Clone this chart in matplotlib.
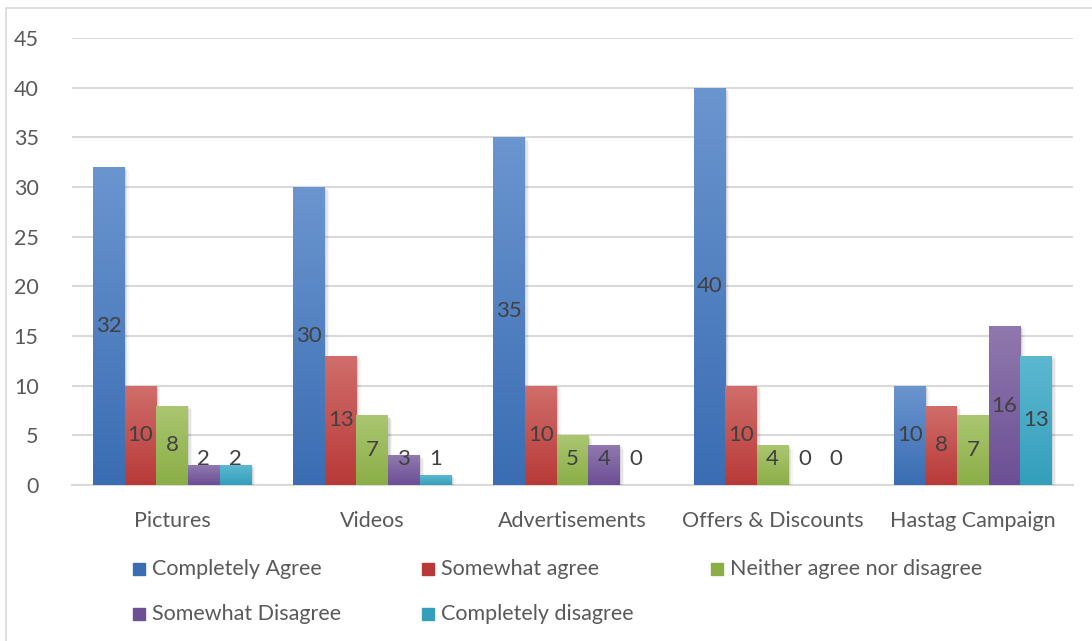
import matplotlib
matplotlib.use("Agg")
import matplotlib.pyplot as plt
import matplotlib.patheffects as pe
from matplotlib.colors import to_rgb
from matplotlib.patches import Rectangle
import numpy as np

categories = ["Pictures", "Videos", "Advertisements", "Offers & Discounts", "Hastag Campaign"]
series = ["Completely Agree", "Somewhat agree", "Neither agree nor disagree",
          "Somewhat Disagree", "Completely disagree"]
completely_agree = [32, 30, 35, 40, 10]
somewhat_agree = [10, 13, 10, 10, 8]
neither = [8, 7, 5, 4, 7]
somewhat_disagree = [2, 3, 4, 0, 16]
completely_disagree = [2, 1, 0, 0, 13]
values = [completely_agree, somewhat_agree, neither, somewhat_disagree, completely_disagree]
y_ticks = [0, 5, 10, 15, 20, 25, 30, 35, 40, 45]

# (top, bottom) gradient colours per series
grad_colors = [("#6b95cf", "#3a6db3"),
               ("#d06e6b", "#b83a38"),
               ("#abc670", "#8bae47"),
               ("#9079ae", "#6c4f95"),
               ("#5db8d1", "#339fbb")]

FONT = "Lato"
TEXT = "#595959"
LABEL = "#404040"
GRID = "#d9d9d9"

fig = plt.figure(figsize=(10.92, 6.41), dpi=100)
ax = fig.add_axes([72 / 1092, 1 - 485 / 641, 1001 / 1092, 447 / 641])

n = len(series)
bw = 0.158
x = np.arange(len(categories))

# soft shadow built from a few faint offset copies
soft_shadow = [pe.SimplePatchShadow(offset=(o, -o * 0.8), shadow_rgbFace="#000000", alpha=a)
               for o, a in [(3.0, 0.04), (2.0, 0.06), (1.0, 0.08)]] + [pe.Normal()]

for i, vals in enumerate(values):
    top, bot = grad_colors[i]
    offs = (i - (n - 1) / 2) * bw
    bars = ax.bar(x + offs, vals, bw, color=bot, linewidth=0, zorder=3)
    grad = np.linspace(0, 1, 64)[:, None]
    c_top, c_bot = np.array(to_rgb(top)), np.array(to_rgb(bot))
    img = (c_top[None, None, :] * (1 - grad[..., None]) + c_bot[None, None, :] * grad[..., None])
    for b, v in zip(bars, vals):
        if v <= 0:
            continue
        b.set_path_effects(soft_shadow)
        x0 = b.get_x()
        im = ax.imshow(img, extent=(x0, x0 + bw, 0, v), aspect="auto", zorder=4,
                       interpolation="bilinear")
        im.set_clip_path(b)
    for xc, v in zip(x + offs, vals):
        ax.text(xc, max(v / 2, 2.6), str(v), ha="center", va="center",
                fontsize=16, color=LABEL, family=FONT, zorder=6)

ax.set_xlim(-0.5, len(categories) - 0.5)
ax.set_ylim(0, 45)
ax.set_yticks(y_ticks)
ax.set_xticks(x)
ax.set_xticklabels(categories)
ax.grid(axis="y", color=GRID, linewidth=1.5, zorder=0)
ax.set_axisbelow(True)
for s in ["top", "right", "left"]:
    ax.spines[s].set_visible(False)
ax.spines["bottom"].set_color(GRID)
ax.spines["bottom"].set_linewidth(1.5)
ax.tick_params(axis="both", length=0, labelsize=15.5, labelcolor=TEXT)
ax.tick_params(axis="y", pad=24)
ax.tick_params(axis="x", pad=19)
for lab in ax.get_xticklabels() + ax.get_yticklabels():
    lab.set_family(FONT)

# legend laid out as a 3-column grid below the axes
leg_x = [133, 422, 711, 133, 422]
leg_y = [569, 569, 569, 614, 614]
for i, name in enumerate(series):
    px, py = leg_x[i] / 1092, 1 - leg_y[i] / 641
    fig.patches.append(Rectangle((px, py - 6 / 641), 12 / 1092, 12 / 641,
                                 transform=fig.transFigure, color=grad_colors[i][1], zorder=5))
    fig.text(px + 19 / 1092, py, name, ha="left", va="center", fontsize=15.5,
             color=TEXT, family=FONT)

# outer chart border
fig.patches.append(Rectangle((6 / 1092, -0.05), 1.2, 1 - 8 / 641 + 0.05,
                             transform=fig.transFigure, fill=False, edgecolor="#d9d9d9",
                             linewidth=1.2, zorder=0))

fig.savefig("out.png", dpi=100, facecolor="white")
